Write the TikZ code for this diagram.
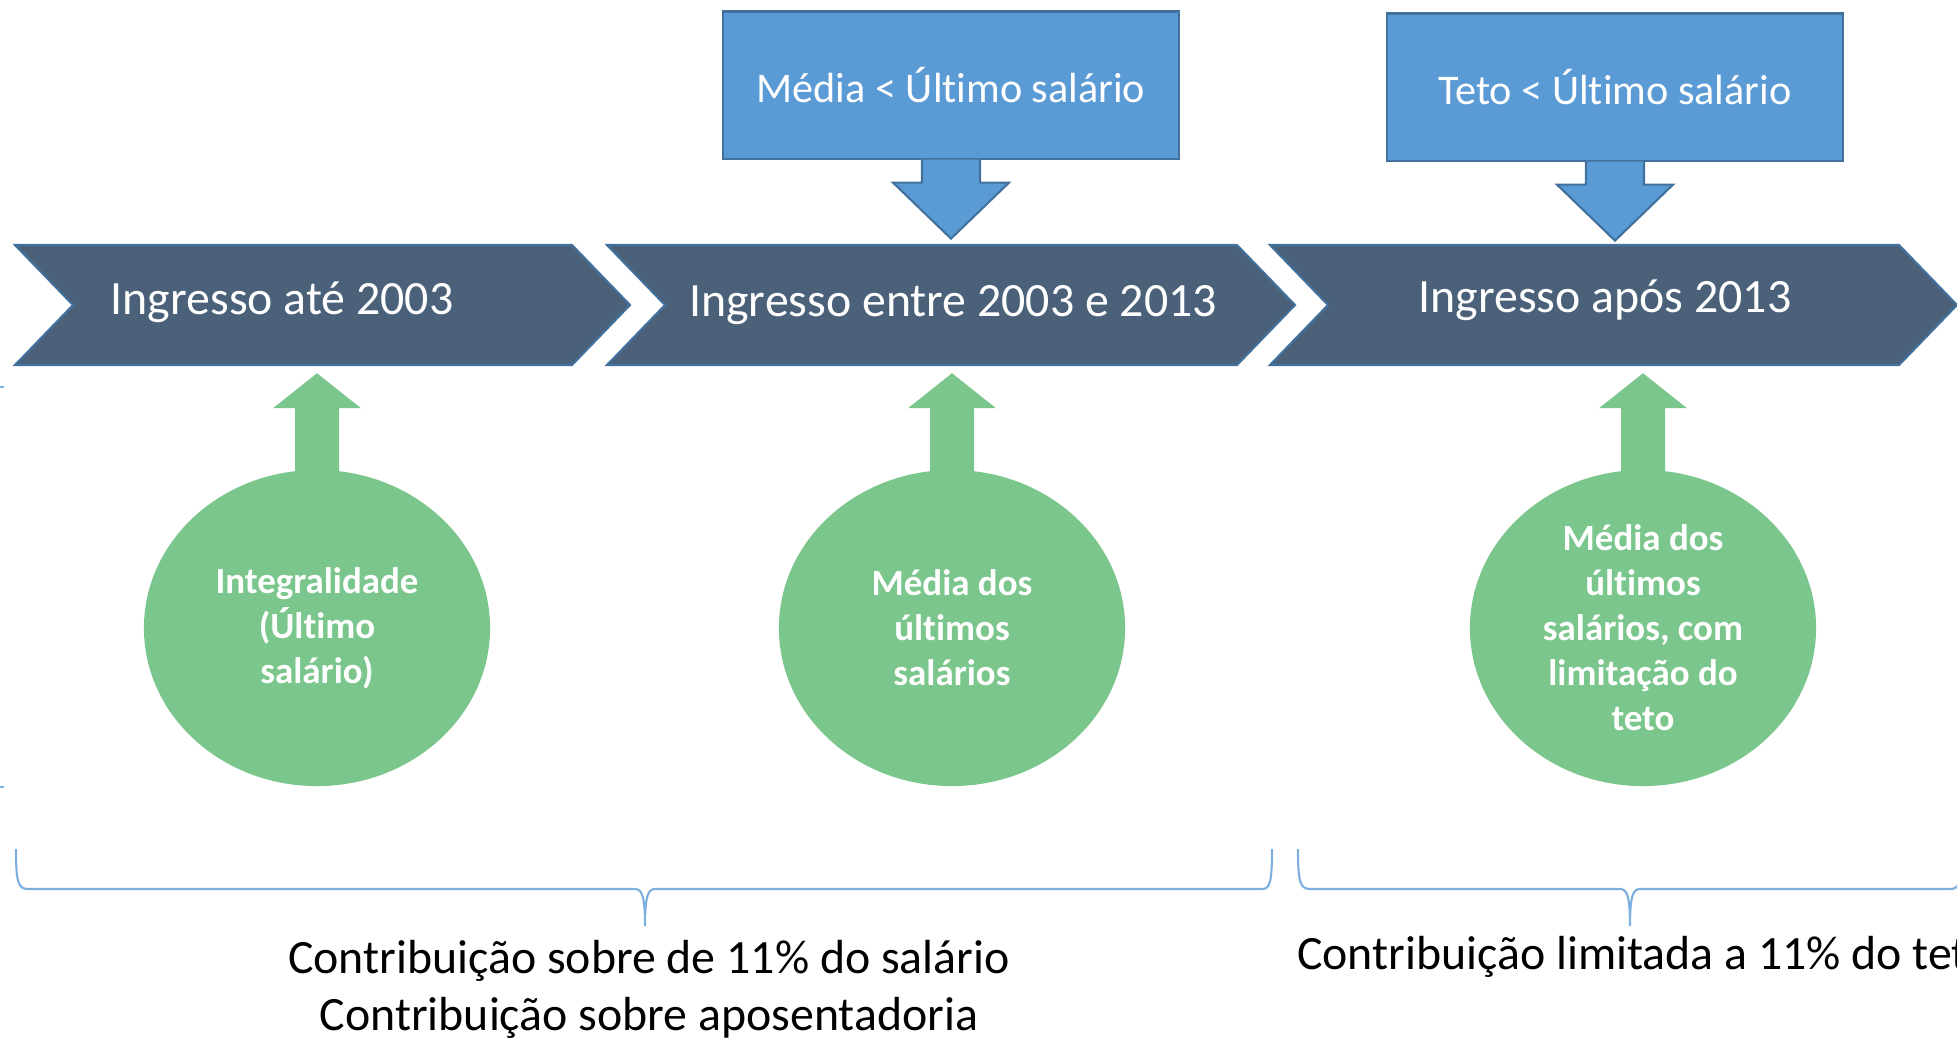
\documentclass[tikz,border=0pt]{standalone}
\usepackage{fontspec}
\setmainfont{Carlito}[RawFeature={-liga;-clig;-calt;-dlig}]
\usetikzlibrary{shapes.geometric,calc}
\definecolor{chevfill}{RGB}{74,97,121}
\definecolor{chevline}{RGB}{65,113,156}
\definecolor{boxfill}{RGB}{91,155,213}
\definecolor{boxline}{RGB}{65,113,156}
\definecolor{ovalfill}{RGB}{123,198,140}
\definecolor{braceline}{RGB}{125,175,222}

\begin{document}
\begin{tikzpicture}[x=0.01cm,y=-0.01cm,
	chev/.style={fill=chevfill,draw=chevline,line width=0.6pt},
	chevtext/.style={text=white,font=\fontsize{13.6}{16}\selectfont},
	topbox/.style={rectangle,draw=boxline,fill=boxfill,line width=0.6pt,minimum width=4.55cm,minimum height=1.47cm,text=white,font=\fontsize{12}{14}\selectfont},
	downarrow/.style={fill=boxfill,draw=boxline,line width=0.6pt},
	oval/.style={ellipse,fill=ovalfill,minimum width=3.46cm,minimum height=3.16cm,inner sep=0pt,text=white,align=center,font=\bfseries\fontsize{10.5}{12.8}\selectfont},
	uparrow/.style={fill=ovalfill},
	bracket/.style={draw=braceline,line width=0.6pt},
	note/.style={align=center,font=\fontsize{13.6}{16.2}\selectfont}]
	\useasboundingbox (0,0) rectangle (1957,1041);
	\clip (0,0) rectangle (1957,1041);
	% timeline
	\foreach \l/\r in {15/572, 607/1237, 1270/1899}
		\draw[chev] (\l,245) -- (\r,245) -- (\r+58,305) -- (\r,365) -- (\l,365) -- (\l+58,305) -- cycle;
	\node[chevtext] (ing1) at (282,302) {Ingresso até 2003};
	\node[chevtext] (ing2) at (953,305) {Ingresso entre 2003 e 2013};
	\node[chevtext] (ing3) at (1605,300) {Ingresso após 2013};
	% conditions
	\node[topbox] (media) at (951,85) {Média < Último salário};
	\node[topbox] (teto) at (1615,87) {Teto < Último salário};
	\foreach \b in {media,teto}
		\filldraw[downarrow] ($(\b.south)+(-29,0)$) -- ++(0,23) -- ++(-29,0) -- ++(58,56) -- ++(58,-56) -- ++(-29,0) -- ++(0,-23);
	% benefits
	\node[oval] (integral) at (317,628) {Integralidade\\(Último\\salário)};
	\node[oval] (mediasal) at (952,628) {Média dos\\últimos\\salários};
	\node[oval] (mediateto) at (1643,628) {Média dos\\últimos\\salários, com\\limitação do\\teto};
	\foreach \e in {integral,mediasal,mediateto}
		\fill[uparrow] ($(\e.north)+(-22,30)$) -- ++(0,-91) -- ++(-22,0) -- ++(44,-35) -- ++(44,35) -- ++(-22,0) -- ++(0,91) -- cycle;
	% braces
	\draw[bracket] (16,849) .. controls (16,882) and (18,889) .. (28,889) -- (635,889) .. controls (642,889) and (645,896) .. (645,926) .. controls (645,896) and (648,889) .. (655,889) -- (1262,889) .. controls (1270,889) and (1272,882) .. (1272,849);
	\draw[bracket] (1298,849) .. controls (1298,882) and (1300,889) .. (1310,889) -- (1620,889) .. controls (1627,889) and (1630,896) .. (1630,926) .. controls (1630,896) and (1633,889) .. (1640,889) -- (1950,889) .. controls (1960,889) and (1962,882) .. (1962,849);
	\draw[bracket] (0,387) -- (4,387);
	\draw[bracket] (0,787) -- (4,787);
	% contributions
	\node[note] (contrib) at (649,989) {Contribuição sobre de 11\% do salário\\Contribuição sobre aposentadoria};
	\node[note] (limite) at (1645,957) {Contribuição limitada a 11\% do teto};
\end{tikzpicture}
\end{document}
